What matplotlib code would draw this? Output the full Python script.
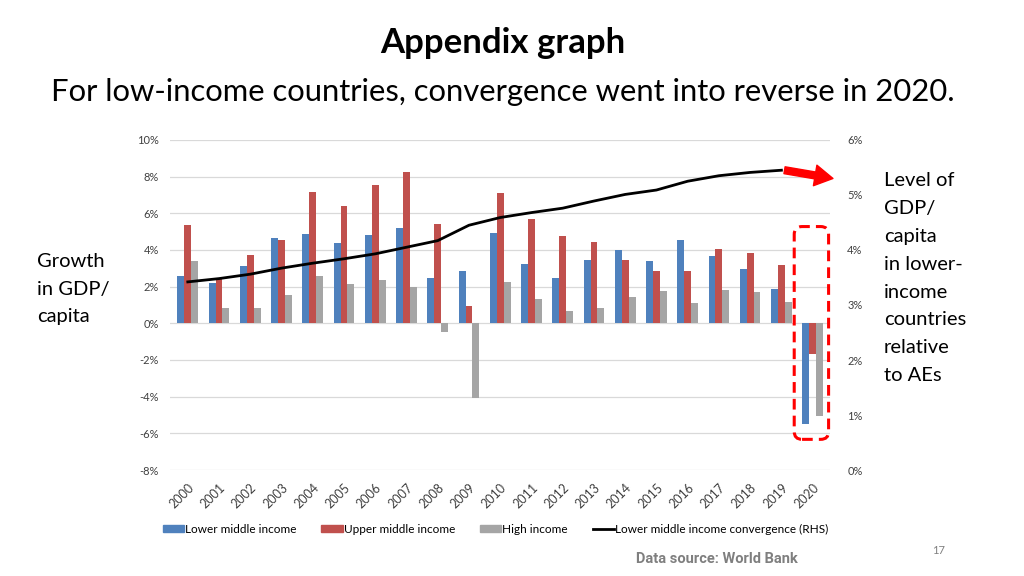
import matplotlib
matplotlib.use("Agg")
import matplotlib.pyplot as plt
import numpy as np
from matplotlib.patches import FancyBboxPatch, Patch
from matplotlib.lines import Line2D
from matplotlib.ticker import FuncFormatter

plt.rcParams['font.family'] = ['Lato', 'DejaVu Sans']

years = [str(y) for y in range(2000, 2021)]
lower_middle = [2.6, 2.2, 3.1, 4.65, 4.85, 4.4, 4.8, 5.2, 2.45, 2.85, 4.95,
                3.22, 2.47, 3.44, 3.98, 3.42, 4.53, 3.65, 2.96, 1.85, -5.47]
upper_middle = [5.35, 2.4, 3.7, 4.55, 7.15, 6.4, 7.55, 8.25, 5.4, 0.95, 7.12,
                5.67, 4.75, 4.45, 3.47, 2.84, 2.87, 4.07, 3.84, 3.16, -1.65]
high_income = [3.4, 0.85, 0.85, 1.55, 2.6, 2.15, 2.35, 2.0, -0.45, -4.05, 2.27,
               1.31, 0.65, 0.84, 1.42, 1.75, 1.11, 1.84, 1.71, 1.15, -5.03]
# convergence level (RHS), ends in 2019
convergence = [3.42, 3.48, 3.56, 3.67, 3.76, 3.84, 3.93, 4.05, 4.17, 4.45, 4.59,
               4.68, 4.76, 4.89, 5.01, 5.09, 5.25, 5.35, 5.41, 5.45]

c_blue, c_red, c_grey = "#4F81BD", "#C0504D", "#A5A5A5"

fig = plt.figure(figsize=(10.24, 5.76), dpi=100)
ax = fig.add_axes([0.166, 0.184, 0.645, 0.573])

x = np.arange(len(years))
w = 0.22
ax.bar(x - w, lower_middle, w, color=c_blue, zorder=3)
ax.bar(x, upper_middle, w, color=c_red, zorder=3)
ax.bar(x + w, high_income, w, color=c_grey, zorder=3)

ax.set_xlim(-0.57, len(years) - 0.43)
ax.set_ylim(-8, 10)
ax.set_yticks(np.arange(-8, 11, 2))
ax.yaxis.set_major_formatter(FuncFormatter(lambda v, p: f"{v:.0f}%"))
ax.grid(axis='y', color='#D9D9D9', lw=0.9, zorder=0)
ax.set_xticks(x)
ax.set_xticklabels(years, rotation=45, ha='right', rotation_mode='anchor', fontsize=9)
ax.tick_params(axis='both', length=0, labelsize=8, colors='#404040')
ax.tick_params(axis='y', pad=8)
ax.tick_params(axis='x', pad=8, labelsize=9)
for s in ax.spines.values():
    s.set_visible(False)

ax2 = ax.twinx()
ax2.plot(x[:len(convergence)], convergence, color='black', lw=2, zorder=4)
ax2.set_ylim(0, 6)
ax2.set_yticks(np.arange(0, 7, 1))
ax2.yaxis.set_major_formatter(FuncFormatter(lambda v, p: f"{v:.0f}%"))
ax2.tick_params(axis='y', length=0, labelsize=8, colors='#404040', pad=12)
for s in ax2.spines.values():
    s.set_visible(False)

# red arrow from end of line to the right axis
ax2.annotate("", xy=(len(years) - 0.35, 5.3), xytext=(len(convergence) - 1 + 0.1, 5.45),
             arrowprops=dict(facecolor='#FF0000', edgecolor='#FF0000', width=5,
                             headwidth=15, headlength=13, shrink=0),
             annotation_clip=False, zorder=6)

# dashed box around 2020
box = FancyBboxPatch((19.66, -5.9), 0.6, 10.75,
                     boxstyle="round,pad=0.25", mutation_aspect=1.71,
                     fill=False, edgecolor='#FF0000', lw=2.2, ls=(0, (3.5, 2)),
                     zorder=5, clip_on=False)
ax.add_patch(box)

handles = [Patch(color=c_blue), Patch(color=c_red), Patch(color=c_grey),
           Line2D([0], [0], color='black', lw=2)]
labels = ["Lower middle income", "Upper middle income", "High income",
          "Lower middle income convergence (RHS)"]
fig.legend(handles, labels, loc='center', bbox_to_anchor=(0.484, 0.081), ncol=4,
           frameon=False, fontsize=8.5, handlelength=1.8, handleheight=0.6,
           handletextpad=0.1, columnspacing=2.1)

fig.text(0.491, 0.926, "Appendix graph", ha='center', va='center',
         fontsize=25, fontweight='bold', color='black')
fig.text(0.491, 0.84, "For low-income countries, convergence went into reverse in 2020.",
         ha='center', va='center', fontsize=22.3, color='black')
fig.text(0.036, 0.498, "Growth\nin GDP/\ncapita", ha='left', va='center',
         fontsize=14.5, linespacing=1.77)
fig.text(0.863, 0.517, "Level of\nGDP/\ncapita\nin lower-\nincome\ncountries\nrelative\nto AEs",
         ha='left', va='center', fontsize=14.5, linespacing=1.77)
fig.text(0.917, 0.045, "17", ha='center', va='center', fontsize=8, color='#808080')
fig.text(0.621, 0.029, "Data source: World Bank", ha='left', va='center',
         fontsize=10.5, fontweight='bold', color='#7F7F7F', family=['Roboto', 'DejaVu Sans'])

fig.savefig("out.png", dpi=100)
